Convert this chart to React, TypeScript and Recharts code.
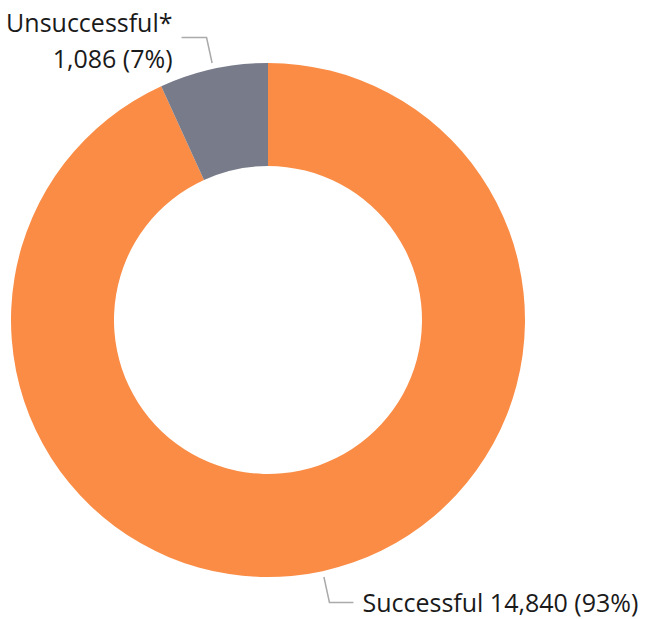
import { Cell, Pie, PieChart } from 'recharts'

const labels = ['Successful', 'Unsuccessful*']
const counts = [14840, 1086]
const colors = ['#FA8C45', '#787B8A']

const data = labels.map((label, i) => ({ label, value: counts[i] }))
const total = counts.reduce((s, v) => s + v, 0)

const RAD = Math.PI / 180
const FONT = '"Open Sans", sans-serif'

function renderLabel(props: any) {
  const { cx, cy, midAngle, outerRadius, index, value } = props
  const cos = Math.cos(-midAngle * RAD)
  const sin = Math.sin(-midAngle * RAD)
  const x1 = cx + (outerRadius + 6) * cos
  const y1 = cy + (outerRadius + 6) * sin
  const x2 = cx + (outerRadius + 32) * cos
  const y2 = cy + (outerRadius + 32) * sin
  const right = cos >= 0
  const x3 = x2 + (right ? 24 : -25)
  const tx = x3 + (right ? 9 : -9)
  const pct = `${Math.round((value / total) * 100)}%`
  const num = value.toLocaleString('en-US')
  return (
    <g key={`lbl-${index}`}>
      <polyline
        points={`${x1},${y1} ${x2},${y2} ${x3},${y2}`}
        fill="none"
        stroke="#AAAAAA"
        strokeWidth={1.5}
      />
      {right ? (
        <text x={tx} y={y2 + 10} fill="#1a1a1a" fontSize={25} fontFamily={FONT} textAnchor="start">
          {`${labels[index]} ${num} (${pct})`}
        </text>
      ) : (
        <text x={tx} y={y2 - 6} fill="#1a1a1a" fontSize={25} fontFamily={FONT} textAnchor="end">
          <tspan x={tx}>{labels[index]}</tspan>
          <tspan x={tx} dy={36}>{`${num} (${pct})`}</tspan>
        </text>
      )}
    </g>
  )
}

export default function App() {
  return (
    <div style={{ position: 'absolute', left: 0, top: 0, width: 646, height: 619 }}>
      <PieChart width={646} height={619} margin={{ top: 0, right: 0, bottom: 0, left: 0 }}>
        <Pie
          data={data}
          dataKey="value"
          nameKey="label"
          cx={268}
          cy={320}
          innerRadius={154}
          outerRadius={257}
          startAngle={90}
          endAngle={-270}
          stroke="none"
          label={renderLabel}
          labelLine={false}
          isAnimationActive={false}
        >
          {data.map((_, i) => (
            <Cell key={i} fill={colors[i]} />
          ))}
        </Pie>
      </PieChart>
    </div>
  )
}
